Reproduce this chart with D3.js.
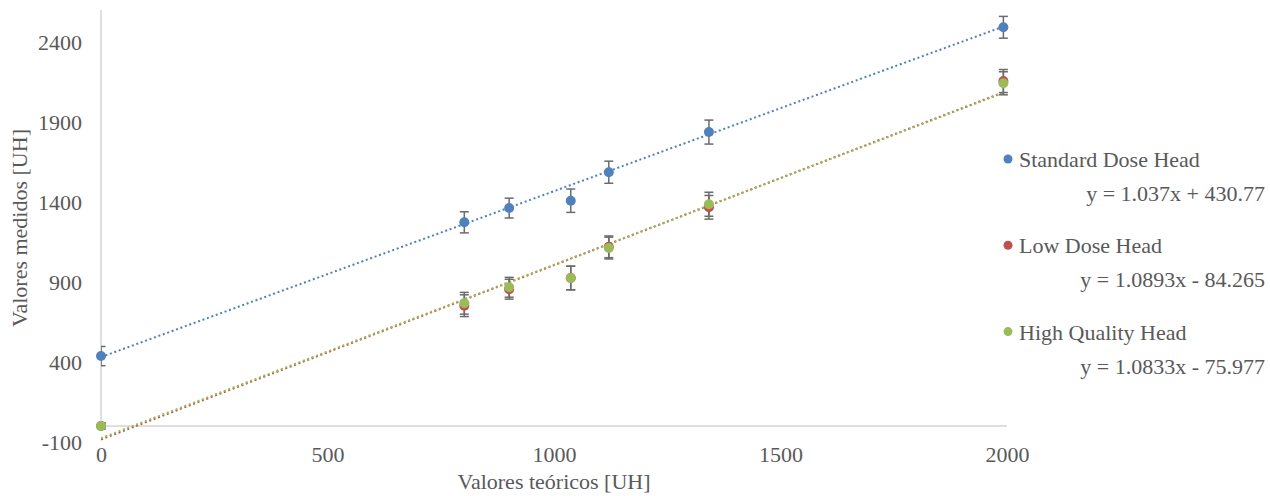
<!DOCTYPE html>
<meta charset="utf-8">
<style>
body { margin: 0; background: #fff; }
svg, svg text { font-family: 'Liberation Serif', 'Times New Roman', serif; }
.tick text { fill: #595959; font-size: 22px; }
.title { fill: #595959; font-size: 22px; }
.legend text { fill: #595959; font-size: 22px; }
.trend { fill: none; stroke-width: 2px; stroke-dasharray: 2, 2.7; }
.err { stroke: #6b6b6b; stroke-width: 1.5px; }
</style>
<body>
<svg width="1270" height="496"></svg>
<script src="https://d3js.org/d3.v7.min.js"></script>
<script>

// theoretical HU values (x)
var teoricos = [0, 802, 901, 1037, 1121, 1342, 1992];

var seriesNames = ["Standard Dose Head", "Low Dose Head", "High Quality Head"];
var seriesColors = ["#4f81bd", "#c0504d", "#9bbb59"];

// measured HU values
var standardDose = [437, 1273, 1362, 1408, 1586, 1837, 2492];
var lowDose = [0, 752, 855, 925, 1120, 1367, 2156];
var highQuality = [0, 767, 867, 925, 1112, 1386, 2142];

// error bar sizes (+/-)
var standardErr = [60, 66, 62, 73, 69, 75, 68];
var lowErr = [20, 68, 62, 74, 68, 74, 72];
var highErr = [20, 68, 62, 74, 68, 75, 72];

// trendline coefficients
var slopes = [1.037, 1.0893, 1.0833];
var intercepts = [430.77, -84.265, -75.977];
var equations = ["y = 1.037x + 430.77", "y = 1.0893x - 84.265", "y = 1.0833x - 75.977"];

var xTicks = [0, 500, 1000, 1500, 2000];
var yTicks = [-100, 400, 900, 1400, 1900, 2400];

var values = [standardDose, lowDose, highQuality];
var errors = [standardErr, lowErr, highErr];

var svg = d3.select("svg");

var x = d3.scaleLinear().domain([0, 2000]).range([101, 1007]);
var y = d3.scaleLinear().domain([-100, 2600]).range([442, 10]);

svg.append("defs").append("clipPath")
    .attr("id", "plot")
    .append("rect")
    .attr("x", x(0))
    .attr("y", y(2600))
    .attr("width", x(2000) - x(0) + 20)
    .attr("height", y(-100) - y(2600));

// axis lines
svg.append("line")
    .attr("x1", x(0)).attr("x2", x(2000))
    .attr("y1", y(0)).attr("y2", y(0))
    .attr("stroke", "#d4d4d4").attr("stroke-width", 1.5);

svg.append("line")
    .attr("x1", x(0)).attr("x2", x(0))
    .attr("y1", y(0)).attr("y2", y(2600))
    .attr("stroke", "#d4d4d4").attr("stroke-width", 1.5);

// tick labels
var yAxis = svg.append("g")
    .attr("transform", "translate(" + x(0) + ",0)")
    .call(d3.axisLeft(y).tickValues(yTicks).tickSize(0).tickPadding(19).tickFormat(String));
yAxis.attr("font-family", null).attr("font-size", null);
yAxis.select(".domain").remove();
yAxis.selectAll("text").attr("dy", "0.33em");

var xAxis = svg.append("g")
    .attr("transform", "translate(0," + y(-100) + ")")
    .call(d3.axisBottom(x).tickValues(xTicks).tickSize(0).tickPadding(0).tickFormat(String));
xAxis.attr("font-family", null).attr("font-size", null);
xAxis.select(".domain").remove();
xAxis.selectAll("text").attr("dy", null).attr("y", 20);

// axis titles
svg.append("text")
    .attr("class", "title")
    .attr("text-anchor", "middle")
    .attr("x", 554)
    .attr("y", 489)
    .text("Valores teóricos [UH]");

svg.append("text")
    .attr("class", "title")
    .attr("text-anchor", "middle")
    .attr("transform", "translate(27,228) rotate(-90)")
    .text("Valores medidos [UH]");

var plot = svg.append("g").attr("clip-path", "url(#plot)");

// trendlines
var xMax = d3.max(teoricos);
seriesNames.forEach(function(name, i) {
    var line = d3.line()
        .x(function(d) { return x(d); })
        .y(function(d) { return y(slopes[i] * d + intercepts[i]); });
    plot.append("path")
        .attr("class", "trend")
        .attr("stroke", seriesColors[i])
        .attr("d", line([0, xMax]));
});

// error bars + markers
seriesNames.forEach(function(name, i) {
    var g = plot.append("g");
    var pts = teoricos.map(function(t, j) {
        return { x: t, y: values[i][j], e: errors[i][j] };
    });

    var bars = g.selectAll(".err-bar")
        .data(pts)
        .enter().append("g")
        .attr("class", "err");

    bars.append("line")
        .attr("x1", function(d) { return x(d.x); })
        .attr("x2", function(d) { return x(d.x); })
        .attr("y1", function(d) { return y(d.y - d.e); })
        .attr("y2", function(d) { return y(d.y + d.e); });
    bars.append("line")
        .attr("x1", function(d) { return x(d.x) - 4.5; })
        .attr("x2", function(d) { return x(d.x) + 4.5; })
        .attr("y1", function(d) { return y(d.y + d.e); })
        .attr("y2", function(d) { return y(d.y + d.e); });
    bars.append("line")
        .attr("x1", function(d) { return x(d.x) - 4.5; })
        .attr("x2", function(d) { return x(d.x) + 4.5; })
        .attr("y1", function(d) { return y(d.y - d.e); })
        .attr("y2", function(d) { return y(d.y - d.e); });

    svg.append("g").selectAll("circle")
        .data(pts)
        .enter().append("circle")
        .attr("cx", function(d) { return x(d.x); })
        .attr("cy", function(d) { return y(d.y); })
        .attr("r", 5)
        .attr("fill", seriesColors[i]);
});

// legend
var legend = svg.append("g").attr("class", "legend");
seriesNames.forEach(function(name, i) {
    var top = 159 + i * 86.3;
    legend.append("circle")
        .attr("cx", 1008)
        .attr("cy", top)
        .attr("r", 4.5)
        .attr("fill", seriesColors[i]);
    legend.append("text")
        .attr("x", 1019)
        .attr("y", top + 8)
        .text(name);
    legend.append("text")
        .attr("x", 1265)
        .attr("y", top + 42)
        .attr("text-anchor", "end")
        .text(equations[i]);
});

</script>
</body>
